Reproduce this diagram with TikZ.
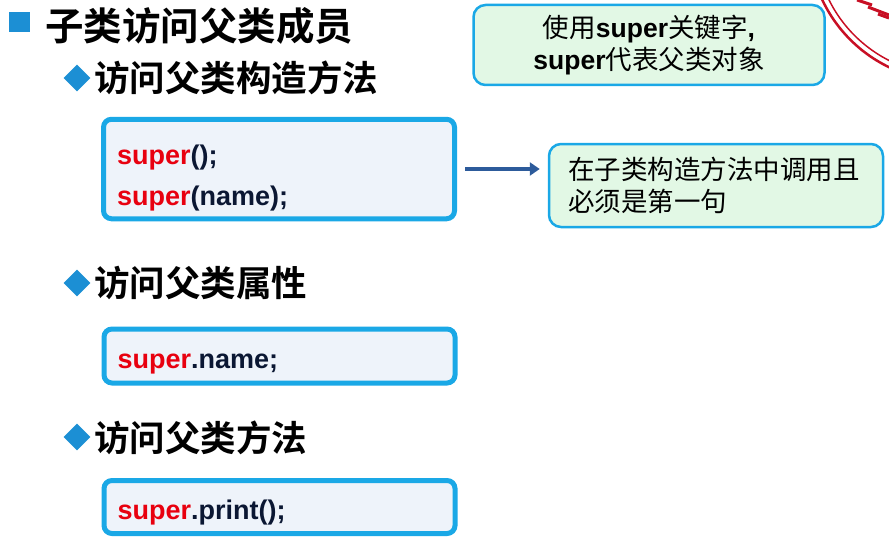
\documentclass[tikz,border=0pt]{standalone}
\usepackage{fontspec}
\setmainfont{Liberation Sans}
\newfontfamily\cjk{Noto Sans CJK SC}[BoldFont={Noto Sans CJK SC Bold}]
\usetikzlibrary{shapes.geometric,arrows.meta}
\definecolor{bullet}{HTML}{1C8FD4}
\definecolor{frame}{HTML}{1AA8E6}
\definecolor{codebg}{HTML}{EEF3FA}
\definecolor{notebg}{HTML}{E2F8E5}
\definecolor{kw}{HTML}{E8000F}
\definecolor{ink}{HTML}{0B1733}
\definecolor{arrowblue}{HTML}{2D5B9B}
\definecolor{stamp}{HTML}{C80F24}
\newcommand\kwd[1]{{\rmfamily\bfseries #1}}

\begin{document}
\begin{tikzpicture}[x=1pt, y=-1pt, every node/.style={inner sep=0pt},
	head/.style={anchor=west, font=\cjk\bfseries\fontsize{35.5}{36}\selectfont},
	bul/.style={diamond, fill=bullet, minimum width=27pt, minimum height=27pt},
	code/.style={draw=frame, line width=5pt, fill=codebg, rounded corners=8pt, text=ink, align=left, inner xsep=13.5pt, text width=324pt, minimum width=351pt, font=\bfseries\fontsize{27}{41}\selectfont, execute at begin node={\rule{0pt}{#1}}, execute at end node={\rule[-6pt]{0pt}{6pt}}},
	note/.style={draw=frame, line width=2.5pt, fill=notebg, rounded corners=12pt, font=\cjk\fontsize{26.5}{32.5}\selectfont}]
	\useasboundingbox (0,0) rectangle (889,543);
	\begin{scope}
		\clip (0,0) rectangle (889,543);
		\draw[stamp, line width=2.5pt] (950,-60) circle (141pt);
		\draw[stamp, line width=1.5pt] (950,-60) circle (135pt);
		\draw[stamp, line width=3pt] (857,0) -- (872,5);
		\draw[stamp, line width=3pt] (868,7) -- (889,15);
		\draw[stamp, line width=3pt] (878,14) -- (889,18);
	\end{scope}
	\node(sq) at (19.5,22.5) [fill=bullet, minimum width=21pt, minimum height=20pt] {};
	\node(title) at (45,25.5) [anchor=west, font=\cjk\bfseries\fontsize{38.5}{39}\selectfont] {子类访问父类成员};
	\node(d1) at (77,78) [bul] {};
	\node(h1) at (94,77.5) [head] {访问父类构造方法};
	\node(c1) at (279,169) [code=37pt, minimum height=99.5pt] {\textcolor{kw}{super}();\\\textcolor{kw}{super}(name);};
	\node(d2) at (77,283) [bul] {};
	\node(h2) at (94,283) [head] {访问父类属性};
	\node(c2) at (279.5,356) [code=30pt, minimum height=54pt] {\textcolor{kw}{super}.name;};
	\node(d3) at (77,437) [bul] {};
	\node(h3) at (94,438) [head] {访问父类方法};
	\node(c3) at (279.5,507) [code=30pt, minimum height=53pt] {\textcolor{kw}{super}.print();};
	\node(n0) at (649,45) [note, align=center, text width=320pt, inner xsep=15.5pt, minimum height=80pt] {使用\kwd{super}关键字\kwd{,}\\\kwd{super}代表父类对象};
	\node(n1) at (716,185.5) [note, align=left, text width=296pt, inner xsep=19pt, minimum height=83pt] {在子类构造方法中调用且\\必须是第一句};
	\draw[arrowblue, line width=4pt, -{Triangle[length=10pt, width=13pt]}, shorten <=8pt, shorten >=8pt] (c1.east) -- (c1.east -| n1.west);
\end{tikzpicture}
\end{document}
